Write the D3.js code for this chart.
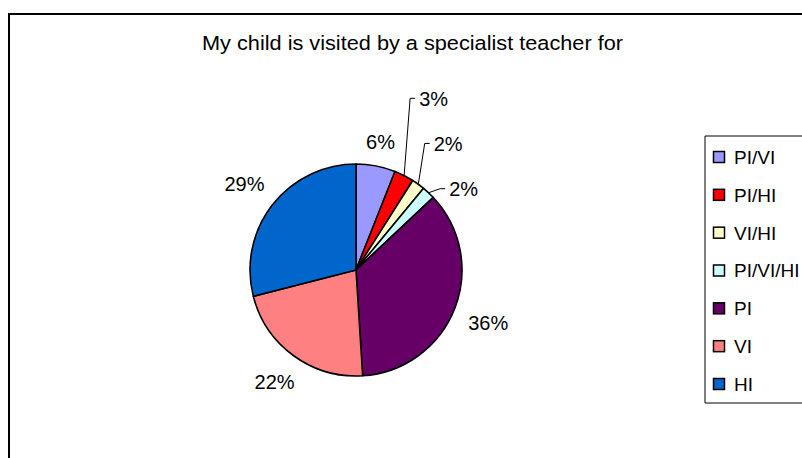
<!DOCTYPE html>
<html>
<head>
<meta charset="utf-8">
<script src="https://cdn.jsdelivr.net/npm/d3@7"></script>
<style>
  html, body { margin: 0; padding: 0; background: #fff; }
  svg { display: block; }
  text { font-family: Arial, "Liberation Sans", sans-serif; fill: #000; }
</style>
</head>
<body>
<svg id="chart" width="802" height="458"></svg>
<script>
// Share of children by type of specialist teacher visit (percent)
const categories = ["PI/VI", "PI/HI", "VI/HI", "PI/VI/HI", "PI", "VI", "HI"];
const values = [6, 3, 2, 2, 36, 22, 29];
const colors = ["#9999FF", "#FF0000", "#FFFFCC", "#CCFFFF", "#660066", "#FF8080", "#0066CC"];
const title = "My child is visited by a specialist teacher for";

const svg = d3.select("#chart");
const W = 802, H = 458;

// Outer chart frame (runs off the right and bottom edges)
svg.append("path")
  .attr("d", `M9,${H + 5} L9,14 L${W + 5},14`)
  .attr("fill", "none")
  .attr("stroke", "#000")
  .attr("stroke-width", 2);

// Title
svg.append("text")
  .attr("x", 202)
  .attr("y", 50)
  .attr("font-size", 20.5)
  .attr("textLength", 421)
  .attr("lengthAdjust", "spacingAndGlyphs")
  .text(title);

// Pie
const cx = 356, cy = 270, R = 106;
const data = categories.map((c, i) => ({ name: c, value: values[i], color: colors[i] }));
const pie = d3.pie().value(d => d.value).sort(null);
const arcs = pie(data);
const arc = d3.arc().innerRadius(0).outerRadius(R);

const g = svg.append("g").attr("transform", `translate(${cx},${cy})`);
g.selectAll("path.slice")
  .data(arcs)
  .join("path")
  .attr("class", "slice")
  .attr("d", arc)
  .attr("fill", d => d.data.color)
  .attr("stroke", "#000")
  .attr("stroke-width", 1.6)
  .attr("stroke-linejoin", "round");

// Polar helper: angle measured clockwise from 12 o'clock
const polar = (r, a) => [r * Math.sin(a), -r * Math.cos(a)];
const mid = d => (d.startAngle + d.endAngle) / 2;

// Small slices get leader lines; elbow given as radius and angle (degrees)
const leaders = {
  1: { r: 180, deg: 17.5 },
  2: { r: 144, deg: 28.5 },
  3: { r: 117, deg: 46 }
};
const labelGap = 121;   // distance from centre to the near side of a label box
const labelSize = 20;
const fmt = v => `${v}%`;

arcs.forEach((d, i) => {
  const L = leaders[i];
  if (L) {
    const [sx, sy] = polar(R, mid(d));
    const [ex, ey] = polar(L.r, L.deg * Math.PI / 180);
    g.append("polyline")
      .attr("points", `${sx},${sy} ${ex},${ey} ${ex + 5},${ey}`)
      .attr("fill", "none")
      .attr("stroke", "#000")
      .attr("stroke-width", 1);
    g.append("text")
      .attr("x", ex + 9)
      .attr("y", ey)
      .attr("dy", "0.36em")
      .attr("font-size", labelSize)
      .text(fmt(d.data.value));
  } else {
    const a = mid(d);
    const t = g.append("text")
      .attr("dy", "0.36em")
      .attr("text-anchor", "middle")
      .attr("font-size", labelSize)
      .text(fmt(d.data.value));
    // push the box outward by its half-extent along the slice direction
    const w = t.node().getComputedTextLength();
    const h = labelSize * 0.72;
    const ext = (w / 2) * Math.abs(Math.sin(a)) + (h / 2) * Math.abs(Math.cos(a));
    const [lx, ly] = polar(labelGap + ext, a);
    t.attr("x", lx).attr("y", ly);
  }
});

// Legend
const lg = svg.append("g");
lg.append("path")
  .attr("d", `M${W + 5},136 L705,136 L705,403 L${W + 5},403`)
  .attr("fill", "#fff")
  .attr("stroke", "#000")
  .attr("stroke-width", 1);

const rowY = d3.scalePoint().domain(categories).range([157, 384]);
const item = lg.selectAll("g.item")
  .data(data)
  .join("g")
  .attr("class", "item")
  .attr("transform", d => `translate(0,${rowY(d.name)})`);
item.append("rect")
  .attr("x", 713.5)
  .attr("y", -5.5)
  .attr("width", 11)
  .attr("height", 11)
  .attr("fill", d => d.color)
  .attr("stroke", "#000")
  .attr("stroke-width", 1.5);
item.append("text")
  .attr("x", 734)
  .attr("y", 0)
  .attr("dy", "0.36em")
  .attr("font-size", 19)
  .text(d => d.name);
</script>
</body>
</html>
